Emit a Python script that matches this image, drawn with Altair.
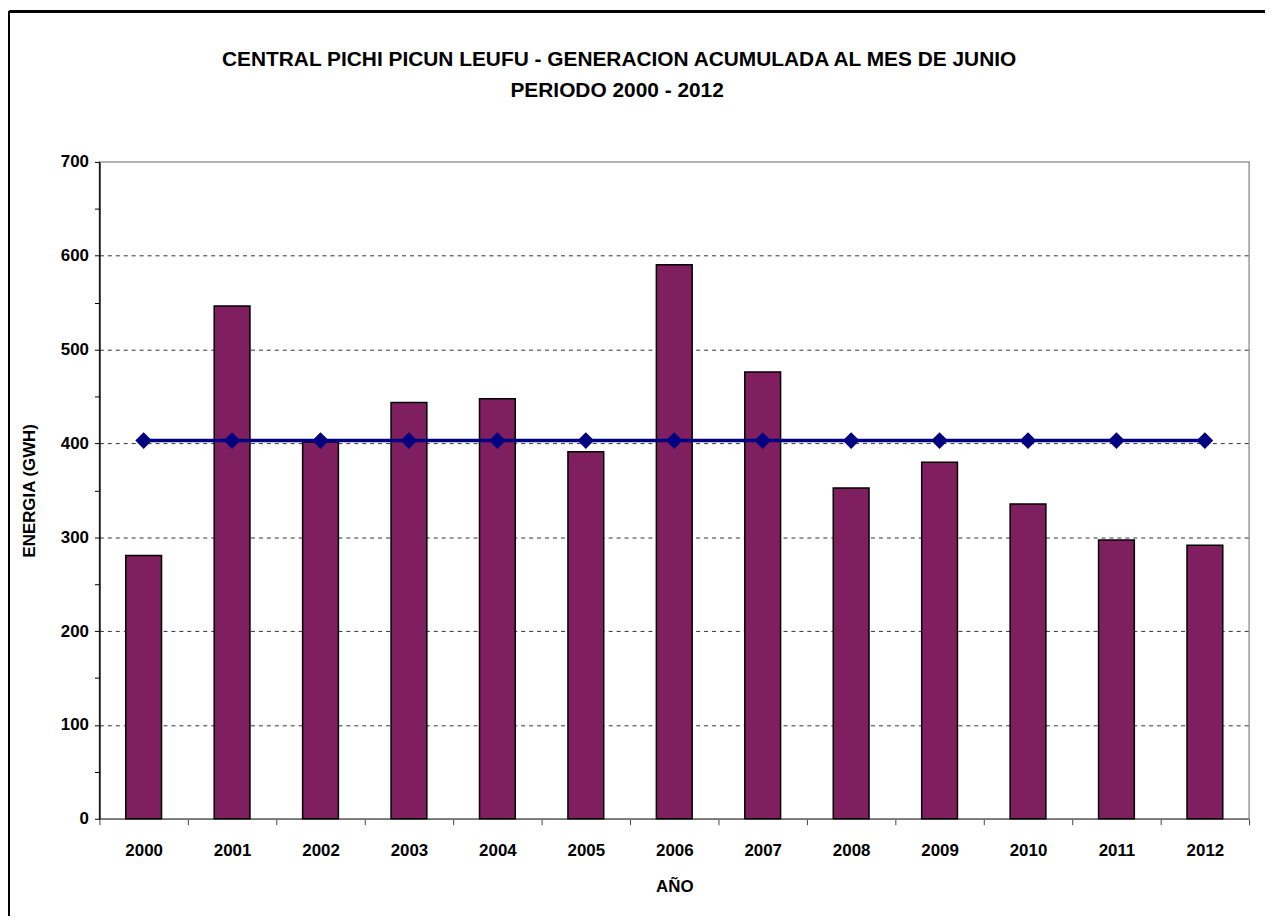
import altair as alt
import pandas as pd

anios = ["2000", "2001", "2002", "2003", "2004", "2005", "2006",
         "2007", "2008", "2009", "2010", "2011", "2012"]
energia = [280.5, 546.5, 401.5, 443.5, 447.5, 391.0, 590.5,
           476.0, 352.5, 380.0, 335.5, 297.0, 291.5]
promedio = [403, 403, 403, 403, 403, 403, 403, 403, 403, 403, 403, 403, 403]
titulo = ["CENTRAL PICHI PICUN LEUFU - GENERACION ACUMULADA AL MES DE JUNIO",
          "PERIODO 2000 - 2012"]

df = pd.DataFrame({"anio": anios, "energia": energia, "promedio": promedio})

FONT = "Liberation Sans"

x_enc = alt.X(
    "anio:N",
    sort=anios,
    scale=alt.Scale(paddingInner=0, paddingOuter=0),
    axis=alt.Axis(
        title="AÑO",
        labelAngle=0,
        tickBand="extent",
        tickSize=6,
        tickColor="#444",
        domainColor="#777",
        domainWidth=1.5,
        labelPadding=18,
        titlePadding=20,
        grid=False,
    ),
)

y_axis = alt.Axis(
    title="ENERGIA (GWH)",
    values=list(range(0, 701, 50)),
    labelExpr="datum.value % 100 == 0 ? datum.label : ''",
    tickSize=5,
    tickColor="#000",
    domainColor="#000",
    domainWidth=1.5,
    labelPadding=6,
    titlePadding=22,
    grid=True,
    gridColor="#333",
    gridDash=[4, 4],
    gridWidth=1,
    gridOpacity=alt.condition(
        "datum.value % 100 == 0 && datum.value > 0 && datum.value < 700",
        alt.value(1), alt.value(0)),
)

bars = alt.Chart(df).mark_bar(
    size=36, color="#7F1F5F", stroke="#000", strokeWidth=1.5
).encode(
    x=x_enc,
    y=alt.Y("energia:Q", scale=alt.Scale(domain=[0, 700], nice=False), axis=y_axis),
)

linea = alt.Chart(df).mark_line(
    color="#000080", strokeWidth=3.5,
    point=alt.OverlayMarkDef(shape="diamond", size=280, color="#000080", filled=True),
).encode(
    x=alt.X("anio:N", sort=anios),
    y=alt.Y("promedio:Q"),
)

marco_izq = alt.Chart(df).mark_rule(color="#000", strokeWidth=2).encode(
    x=alt.value(-91), y=alt.value(-151), y2=alt.value(900)
)
marco_sup = alt.Chart(df).mark_rule(color="#000", strokeWidth=2).encode(
    x=alt.value(-91), x2=alt.value(1300), y=alt.value(-151)
)

tit_df = pd.DataFrame({"t": titulo})
tit1 = alt.Chart(tit_df.iloc[[0]]).mark_text(
    font=FONT, fontSize=21, fontWeight="bold", color="#000",
    align="center", baseline="alphabetic",
).encode(text="t:N", x=alt.value(523), y=alt.value(-97))
tit2 = alt.Chart(tit_df.iloc[[1]]).mark_text(
    font=FONT, fontSize=21, fontWeight="bold", color="#000",
    align="center", baseline="alphabetic",
).encode(text="t:N", x=alt.value(521), y=alt.value(-65))

chart = alt.layer(bars, linea, marco_izq, marco_sup, tit1, tit2).properties(
    width=1157,
    height=661,
    background="white",
    padding={"left": 92, "top": 152, "right": 16, "bottom": 95},
    autosize=alt.AutoSizeParams(type="none"),
).configure_view(
    stroke="#999", strokeWidth=1.5
).configure_axis(
    labelFont=FONT, labelFontSize=17, labelFontWeight="bold", labelColor="#000",
    titleFont=FONT, titleFontSize=17, titleFontWeight="bold", titleColor="#000",
)

chart.save("out.html", embed_options={"renderer": "svg", "actions": False})
